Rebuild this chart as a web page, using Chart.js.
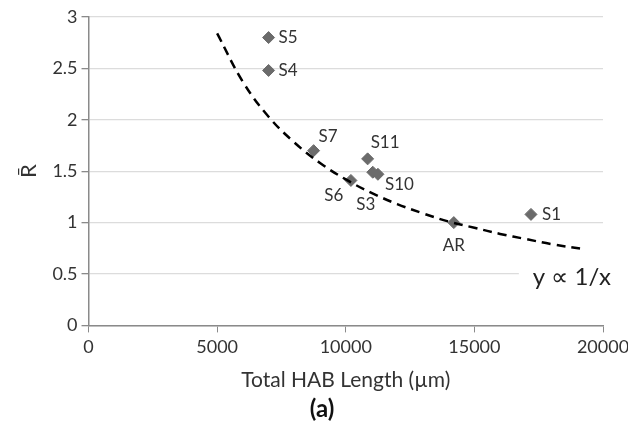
<!DOCTYPE html>
<html lang="en">
<head>
  <meta charset="UTF-8" />
  <title>R-bar vs Total HAB Length</title>
  <script src="https://cdn.jsdelivr.net/npm/chart.js"></script>
  <style>
    html, body { margin: 0; padding: 0; background: #fff; }
    #wrap { width: 628px; height: 429px; }
  </style>
</head>
<body>
<div id="wrap"><canvas id="chart" width="628" height="429"></canvas></div>
<script>
  // data
  const sampleNames = ['S5', 'S4', 'S7', 'S11', 'S3', 'S10', 'S6', 'AR', 'S1'];
  const lengthUm = [7000, 7000, 8750, 10850, 11050, 11250, 10200, 14200, 17200];
  const rBar = [2.80, 2.48, 1.70, 1.62, 1.49, 1.47, 1.41, 1.00, 1.08];

  // dashed 1/x trend
  const fitX = [5000, 6000, 7000, 8000, 9000, 10000, 11000, 12000, 13000, 14000, 15000, 16000, 17000, 18000, 19300];
  const fitY = [2.84, 2.37, 2.03, 1.78, 1.58, 1.42, 1.29, 1.18, 1.09, 1.01, 0.95, 0.89, 0.84, 0.79, 0.74];

  const xTicks = [0, 5000, 10000, 15000, 20000];
  const yTicks = [0, 0.5, 1, 1.5, 2, 2.5, 3];

  // label offsets in px: [dx, dy, align]
  const labelPlace = {
    S5: [10, 0, 'left'], S4: [10, 0, 'left'], S7: [5, -14, 'left'],
    S11: [3, -16, 'left'], S10: [7, 10, 'left'], S3: [-7, 32, 'center'],
    S6: [-17, 15, 'center'], AR: [0, 23, 'center'], S1: [11, 0, 'left']
  };

  const FONT = 'Lato, "Open Sans", sans-serif';
  Chart.defaults.font.family = FONT;
  Chart.defaults.color = '#333';

  const pointLabels = {
    id: 'pointLabels',
    afterDatasetsDraw(chart) {
      const ctx = chart.ctx;
      const meta = chart.getDatasetMeta(1);
      ctx.save();
      ctx.font = '17px ' + FONT;
      ctx.fillStyle = '#333';
      ctx.textBaseline = 'middle';
      meta.data.forEach((pt, i) => {
        const name = sampleNames[i];
        const p = labelPlace[name];
        ctx.textAlign = p[2];
        ctx.fillText(name, pt.x + p[0], pt.y + p[1]);
      });
      // trend annotation
      const ys = chart.scales.y;
      const a = chart.chartArea;
      const ty = ys.getPixelForValue(0.5) + 3;
      ctx.font = '24px ' + FONT;
      const txt = 'y \u221D 1/x';
      const w = ctx.measureText(txt).width;
      ctx.fillStyle = '#fff';
      ctx.fillRect(a.right + 8 - w - 14, ty - 14, w + 20, 26);
      ctx.fillStyle = '#222';
      ctx.textAlign = 'right';
      ctx.fillText(txt, a.right + 8, ty);
      ctx.restore();
    }
  };

  new Chart(document.getElementById('chart'), {
    type: 'scatter',
    data: {
      datasets: [
        {
          label: 'fit',
          data: fitX.map((x, i) => ({ x, y: fitY[i] })),
          showLine: true,
          borderColor: '#000',
          borderWidth: 2.5,
          borderDash: [9, 6],
          pointRadius: 0,
          tension: 0.4,
          fill: false
        },
        {
          label: 'samples',
          data: lengthUm.map((x, i) => ({ x, y: rBar[i] })),
          pointStyle: 'rectRot',
          pointRadius: 6,
          backgroundColor: '#6b6b6b',
          borderColor: '#6b6b6b',
          borderWidth: 1
        }
      ]
    },
    options: {
      responsive: false,
      animation: false,
      layout: { padding: { left: 16, right: 0, top: 17, bottom: 0 } },
      plugins: {
        legend: { display: false },
        tooltip: { enabled: false },
        title: {
          display: true,
          text: '(a)',
          position: 'bottom',
          font: { size: 24, weight: 'bold' },
          color: '#111',
          padding: { top: 0, bottom: 5 }
        }
      },
      scales: {
        x: {
          type: 'linear',
          min: 0, max: 20000,
          afterBuildTicks: s => { s.ticks = xTicks.map(v => ({ value: v })); },
          afterFit: s => { s.paddingRight = 25; },
          border: { color: '#8a8a8a', width: 1.5 },
          grid: { drawOnChartArea: false, tickLength: 7, tickColor: '#8a8a8a' },
          ticks: { font: { size: 18 }, color: '#333', padding: 4, maxRotation: 0, callback: v => String(v) },
          title: { display: true, text: 'Total HAB Length (\u00B5m)', font: { size: 21 }, color: '#333', padding: { top: 6, bottom: 2 } }
        },
        y: {
          min: 0, max: 3,
          afterBuildTicks: s => { s.ticks = yTicks.map(v => ({ value: v })); },
          border: { color: '#8a8a8a', width: 1.5 },
          grid: { color: '#dcdcdc', lineWidth: 1.3, tickLength: 7, tickColor: '#8a8a8a' },
          ticks: { font: { size: 18 }, color: '#333', padding: 4, callback: v => String(v) },
          title: { display: true, text: 'R\u0304', font: { size: 22 }, color: '#333', padding: { top: 0, bottom: 6 } }
        }
      }
    },
    plugins: [pointLabels]
  });
</script>
</body>
</html>
